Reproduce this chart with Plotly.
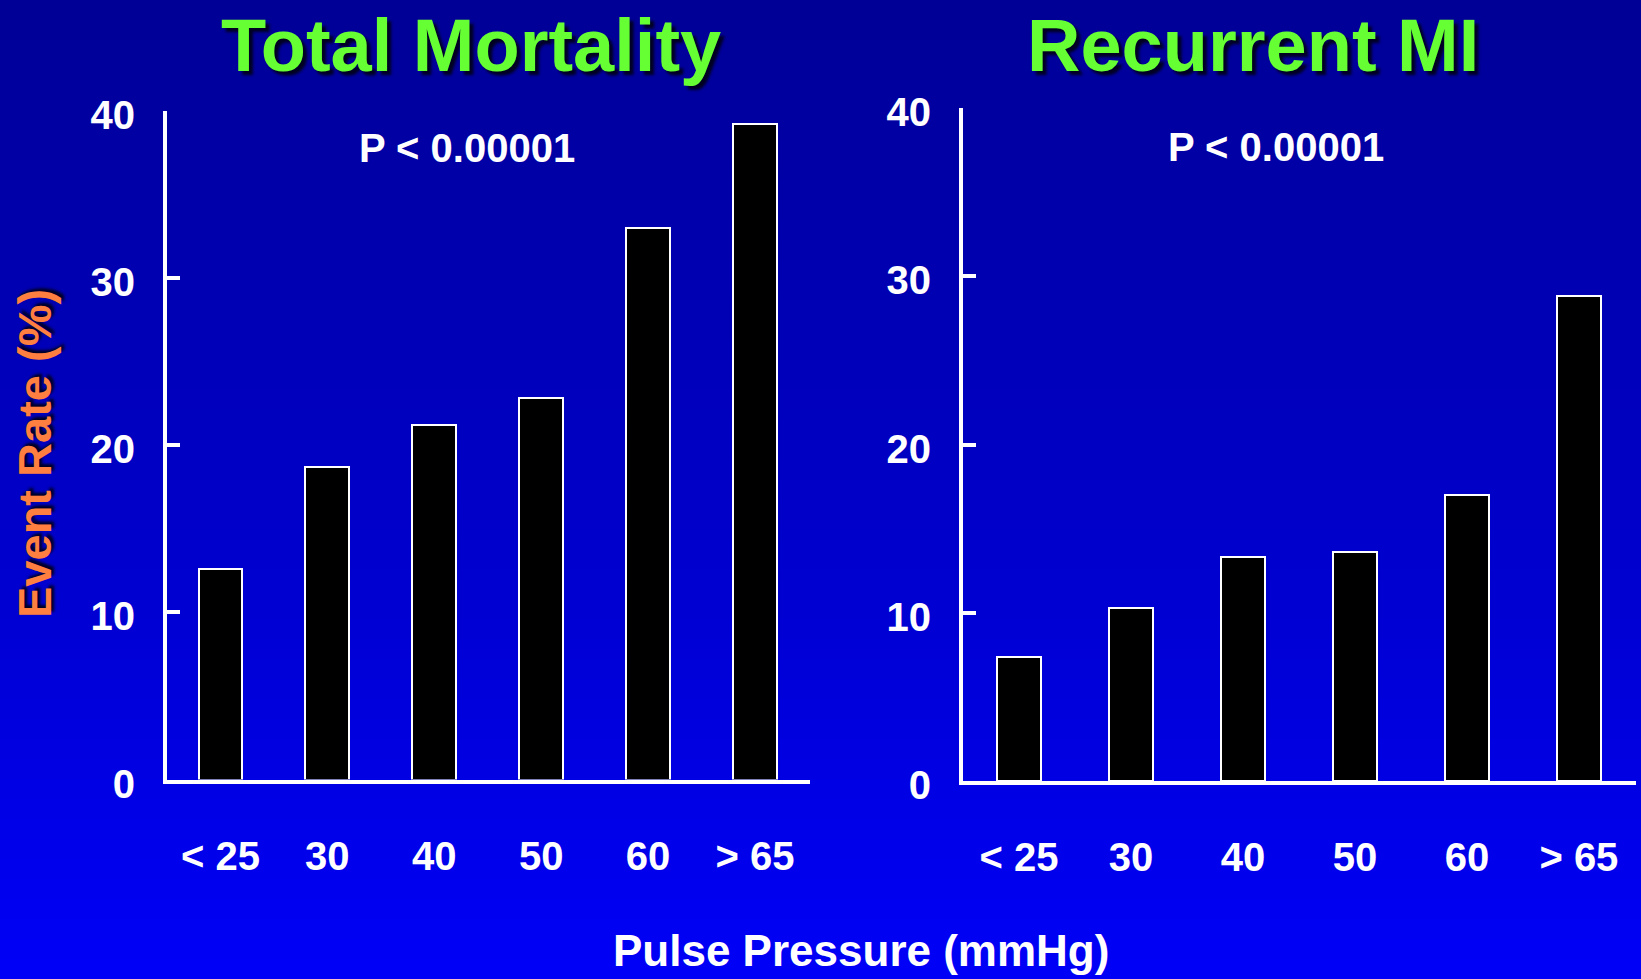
import plotly.graph_objects as go

categories = ["< 25", "30", "40", "50", "60", "> 65"]
total_mortality = [12.6, 18.7, 21.2, 22.8, 33.0, 39.2]
recurrent_mi = [7.4, 10.3, 13.3, 13.6, 17.0, 28.8]
y_ticks = [0, 10, 20, 30, 40]

W, H = 1641, 979
FONT = "Liberation Sans, Arial, sans-serif"

fig = go.Figure()
idx = list(range(len(categories)))

fig.add_trace(go.Bar(x=idx, y=total_mortality, width=0.41, xaxis="x", yaxis="y",
                     marker=dict(color="black", line=dict(color="white", width=2))))
fig.add_trace(go.Bar(x=idx, y=recurrent_mi, width=0.39, xaxis="x2", yaxis="y2",
                     marker=dict(color="black", line=dict(color="white", width=2))))

# background gradient bands
n = 98
shapes = []
for i in range(n):
    t = i / (n - 1)
    b = int(round(150 + (247 - 150) * t))
    y1 = 1 - i / n
    y0 = 1 - (i + 1) / n
    shapes.append(dict(type="rect", xref="paper", yref="paper", x0=0, x1=1,
                       y0=y0 - 0.001, y1=y1, fillcolor=f"rgb(0,0,{b})",
                       line=dict(width=0), layer="below"))

tickfont = dict(family=FONT, size=40, color="white", weight="bold")

def yaxis(domain):
    return dict(domain=domain, range=[0, 40], tickvals=y_ticks, ticks="inside",
                ticklen=13, tickwidth=4, tickcolor="white", showline=True,
                linewidth=4, linecolor="white", showgrid=False, zeroline=False,
                tickfont=tickfont, ticklabelstandoff=20, ticklabelshift=4,
                fixedrange=True, automargin=False)

def xaxis(domain, anchor, rng):
    return dict(domain=domain, anchor=anchor, range=rng, tickvals=idx,
                ticktext=categories, ticks="", showline=True, linewidth=4,
                linecolor="white", showgrid=False, zeroline=False,
                tickfont=tickfont, ticklabelstandoff=38, fixedrange=True,
                automargin=False)

title_font = dict(family=FONT, size=74, color="#66FF33", weight="bold",
                  shadow="4px 4px 3px #000022")
p_font = dict(family=FONT, size=40, color="white", weight="bold")

annotations = [
    dict(text="Total Mortality", x=471 / W, y=1 - 46 / H, xref="paper", yref="paper",
         showarrow=False, xanchor="center", yanchor="middle", borderpad=0,
         font=title_font),
    dict(text="Recurrent MI", x=1253 / W, y=1 - 46 / H, xref="paper", yref="paper",
         showarrow=False, xanchor="center", yanchor="middle", borderpad=0,
         font=title_font),
    dict(text="P < 0.00001", x=467 / W, y=1 - 148 / H, xref="paper", yref="paper",
         showarrow=False, xanchor="center", yanchor="middle", font=p_font),
    dict(text="P < 0.00001", x=1276 / W, y=1 - 147 / H, xref="paper", yref="paper",
         showarrow=False, xanchor="center", yanchor="middle", font=p_font),
    dict(text="Pulse Pressure (mmHg)", x=861 / W, y=1 - 950 / H, xref="paper", yref="paper",
         showarrow=False, xanchor="center", yanchor="middle", borderpad=0,
         font=dict(family=FONT, size=44, color="white", weight="bold")),
    dict(text="Event Rate (%)", x=34 / W, y=1 - 454 / H, xref="paper", yref="paper",
         showarrow=False, xanchor="center", yanchor="middle", textangle=-90,
         font=dict(family=FONT, size=47, color="#FF7F40", weight="bold",
                   shadow="3px 3px 3px #000022")),
]

fig.update_layout(
    width=W, height=H, margin=dict(l=0, r=0, t=0, b=0, autoexpand=False),
    paper_bgcolor="rgb(0,0,200)", plot_bgcolor="rgba(0,0,0,0)",
    showlegend=False, bargap=0,
    xaxis=xaxis([167 / W, 810 / W], "y", [-0.5, 5.515]),
    yaxis=yaxis([1 - 779.5 / H, 1 - 111 / H]),
    xaxis2=xaxis([963 / W, 1636 / W], "y2", [-0.5, 5.51]),
    yaxis2=dict(yaxis([1 - 781 / H, 1 - 108 / H]), anchor="x2"),
    shapes=shapes, annotations=annotations,
)
fig.update_layout(yaxis=dict(anchor="x"))

fig.write_html("out.html", config={"displayModeBar": False})
